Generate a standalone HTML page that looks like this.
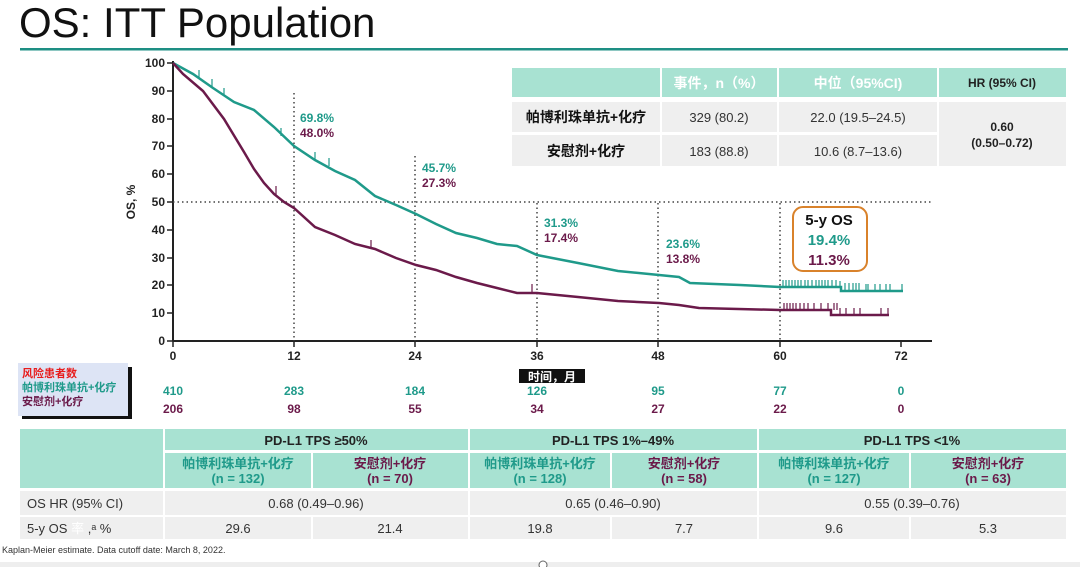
<!DOCTYPE html>
<html><head><meta charset="utf-8"><style>
body{margin:0;background:#fff;width:1080px;height:567px;overflow:hidden;font-family:"Liberation Sans","Noto Sans CJK SC",sans-serif;}
svg text{font-family:"Liberation Sans","Noto Sans CJK SC",sans-serif;}
</style></head><body>
<svg width="1080" height="567" viewBox="0 0 1080 567" xmlns="http://www.w3.org/2000/svg">
<text x="19" y="37" font-size="42" fill="#111">OS: ITT Population</text>
<rect x="20" y="48" width="1048" height="2.5" fill="#1e8f84"/>

<!-- axes -->
<g stroke="#222" stroke-width="2" fill="none">
<line x1="173" y1="61" x2="173" y2="341"/>
<line x1="173" y1="341" x2="932" y2="341"/>
</g>
<g stroke="#222" stroke-width="1.5">
<line x1="167" y1="63" x2="173" y2="63"/><line x1="167" y1="91" x2="173" y2="91"/><line x1="167" y1="119" x2="173" y2="119"/><line x1="167" y1="146" x2="173" y2="146"/><line x1="167" y1="174" x2="173" y2="174"/><line x1="167" y1="202" x2="173" y2="202"/><line x1="167" y1="230" x2="173" y2="230"/><line x1="167" y1="258" x2="173" y2="258"/><line x1="167" y1="285" x2="173" y2="285"/><line x1="167" y1="313" x2="173" y2="313"/><line x1="167" y1="341" x2="173" y2="341"/>
<line x1="173" y1="341" x2="173" y2="347"/><line x1="294" y1="341" x2="294" y2="347"/><line x1="415" y1="341" x2="415" y2="347"/><line x1="537" y1="341" x2="537" y2="347"/><line x1="658" y1="341" x2="658" y2="347"/><line x1="780" y1="341" x2="780" y2="347"/><line x1="901" y1="341" x2="901" y2="347"/>
</g>
<g font-size="12" font-weight="bold" fill="#222" text-anchor="end">
<text x="165" y="67">100</text><text x="165" y="95">90</text><text x="165" y="123">80</text><text x="165" y="150">70</text><text x="165" y="178">60</text><text x="165" y="206">50</text><text x="165" y="234">40</text><text x="165" y="262">30</text><text x="165" y="289">20</text><text x="165" y="317">10</text><text x="165" y="345">0</text>
</g>
<g font-size="12" font-weight="bold" fill="#222" text-anchor="middle">
<text x="173" y="360">0</text><text x="294" y="360">12</text><text x="415" y="360">24</text><text x="537" y="360">36</text><text x="658" y="360">48</text><text x="780" y="360">60</text><text x="901" y="360">72</text>
</g>
<text x="135" y="202" font-size="12" font-weight="bold" fill="#222" transform="rotate(-90 135 202)" text-anchor="middle">OS, %</text>
<rect x="519" y="369" width="66" height="14" fill="#111"/>
<text x="552" y="381" font-size="12" font-weight="bold" fill="#fff" text-anchor="middle">时间，月</text>

<!-- dotted guides -->
<g stroke="#444" stroke-width="1.5" stroke-dasharray="1.5,3">
<line x1="173" y1="202" x2="932" y2="202"/>
<line x1="294" y1="93" x2="294" y2="341"/>
<line x1="415" y1="156" x2="415" y2="341"/>
<line x1="537" y1="203" x2="537" y2="341"/>
<line x1="658" y1="203" x2="658" y2="341"/>
<line x1="780" y1="203" x2="780" y2="341"/>
</g>

<!-- curves -->
<polyline fill="none" stroke="#1f9a8a" stroke-width="2.5" points="173,63 193,74 213,88 234,102 254,110 274,127 294,146 315,160 335,171 355,180 375,196 396,205 416,214 436,224 456,233 477,238 497,244 517,246 537,255 578,263 618,271 659,275 679,277 690,283 740,285 780,287 841,287 841,291 903,291"/>
<polyline fill="none" stroke="#6b1a4a" stroke-width="2.5" points="173,63 183,74 203,91 224,119 244,152 254,169 264,183 274,194 284,202 294,208 315,227 335,235 355,244 375,249 396,258 416,265 436,270 456,277 477,283 497,288 517,293 537,293 578,297 618,301 659,303 679,305 699,308 780,310 831,310 831,315 889,315"/>
<g stroke="#1f9a8a" stroke-width="1.2">
<line x1="199" y1="70" x2="199" y2="78"/><line x1="212" y1="79" x2="212" y2="87"/><line x1="224" y1="88" x2="224" y2="96"/><line x1="281" y1="128" x2="281" y2="136"/><line x1="315" y1="152" x2="315" y2="160"/><line x1="329" y1="158" x2="329" y2="166"/>
<path d="M783 280v7M786 280v7M789 280v7M792 280v7M795 280v7M798 280v7M801 280v7M805 280v7M808 280v7M812 280v7M816 280v7M819 280v7M822 280v7M825 280v7M828 280v7M832 280v7M836 280v7M840 281v6M845 283v8M849 283v8M853 283v8M856 283v8M859 283v8M866 284v7M868 284v7M875 284v7M880 284v7M886 284v7M890 284v7M902 284v7"/>
</g>
<g stroke="#6b1a4a" stroke-width="1.2">
<line x1="276" y1="186" x2="276" y2="196"/><line x1="371" y1="240" x2="371" y2="249"/><line x1="532" y1="284" x2="532" y2="293"/>
<path d="M784 303v7M787 303v7M790 303v7M793 303v7M796 303v7M800 303v7M804 303v7M808 303v7M814 303v7M821 303v7M828 303v7M834 303v7M837 303v7M840 308v7M846 308v7M854 308v7M860 308v7M881 308v7M888 308v7"/>
</g>

<!-- annotations -->
<g font-size="12" font-weight="bold">
<text x="300" y="122" fill="#1f9a8a">69.8%</text><text x="300" y="137" fill="#6b1a4a">48.0%</text>
<text x="422" y="172" fill="#1f9a8a">45.7%</text><text x="422" y="187" fill="#6b1a4a">27.3%</text>
<text x="544" y="227" fill="#1f9a8a">31.3%</text><text x="544" y="242" fill="#6b1a4a">17.4%</text>
<text x="666" y="248" fill="#1f9a8a">23.6%</text><text x="666" y="263" fill="#6b1a4a">13.8%</text>
</g>
<rect x="793" y="207" width="74" height="64" rx="10" fill="#fff" stroke="#d9822b" stroke-width="2"/>
<g font-size="15" font-weight="bold" text-anchor="middle">
<text x="829" y="225" fill="#111">5-y OS</text>
<text x="829" y="245" fill="#1f9a8a">19.4%</text>
<text x="829" y="265" fill="#6b1a4a">11.3%</text>
</g>

<!-- top-right table -->
<g fill="#a8e2d2"><rect x="512" y="68" width="148" height="29"/><rect x="662" y="68" width="115" height="29"/><rect x="779" y="68" width="158" height="29"/><rect x="939" y="68" width="127" height="29"/></g>
<g fill="#efefef"><rect x="512" y="102" width="148" height="30"/><rect x="662" y="102" width="115" height="30"/><rect x="779" y="102" width="158" height="30"/><rect x="512" y="135" width="148" height="31"/><rect x="662" y="135" width="115" height="31"/><rect x="779" y="135" width="158" height="31"/><rect x="939" y="102" width="127" height="64"/></g>
<g font-size="14" fill="#fff" font-weight="bold" text-anchor="middle"><text x="719" y="88">事件，n（%）</text><text x="858" y="88">中位（95%CI)</text></g>
<text x="1002" y="87" font-size="12" font-weight="bold" fill="#222" text-anchor="middle">HR (95% CI)</text>
<g font-size="14" font-weight="bold" fill="#111" text-anchor="middle"><text x="586" y="122">帕博利珠单抗+化疗</text><text x="586" y="156">安慰剂+化疗</text></g>
<g font-size="13" fill="#333" text-anchor="middle"><text x="719" y="122">329 (80.2)</text><text x="858" y="122">22.0 (19.5–24.5)</text><text x="719" y="156">183 (88.8)</text><text x="858" y="156">10.6 (8.7–13.6)</text></g>
<g font-size="12" font-weight="bold" fill="#222" text-anchor="middle"><text x="1002" y="131">0.60</text><text x="1002" y="147">(0.50–0.72)</text></g>

<!-- risk box -->
<rect x="18" y="363" width="110" height="53" fill="#dde4f5"/>
<rect x="128" y="367" width="4" height="51" fill="#111"/><rect x="22" y="416" width="110" height="3" fill="#111"/>
<g font-size="11" font-weight="bold"><text x="22" y="377" fill="#e81c1c">风险患者数</text><text x="22" y="391" fill="#1f9a8a">帕博利珠单抗+化疗</text><text x="22" y="405" fill="#6b1a4a">安慰剂+化疗</text></g>
<g font-size="12" font-weight="bold" text-anchor="middle" fill="#1f9a8a"><text x="173" y="395">410</text><text x="294" y="395">283</text><text x="415" y="395">184</text><text x="537" y="395">126</text><text x="658" y="395">95</text><text x="780" y="395">77</text><text x="901" y="395">0</text></g>
<g font-size="12" font-weight="bold" text-anchor="middle" fill="#6b1a4a"><text x="173" y="413">206</text><text x="294" y="413">98</text><text x="415" y="413">55</text><text x="537" y="413">34</text><text x="658" y="413">27</text><text x="780" y="413">22</text><text x="901" y="413">0</text></g>

<!-- bottom table -->
<g fill="#a8e2d2">
<rect x="20" y="429" width="143" height="59"/>
<rect x="165" y="429" width="303" height="21"/><rect x="470" y="429" width="287" height="21"/><rect x="759" y="429" width="307" height="21"/>
<rect x="165" y="453" width="146" height="35"/><rect x="313" y="453" width="155" height="35"/>
<rect x="470" y="453" width="140" height="35"/><rect x="612" y="453" width="145" height="35"/>
<rect x="759" y="453" width="150" height="35"/><rect x="911" y="453" width="155" height="35"/>
</g>
<g fill="#efefef">
<rect x="20" y="491" width="143" height="24"/><rect x="165" y="491" width="303" height="24"/><rect x="470" y="491" width="287" height="24"/><rect x="759" y="491" width="307" height="24"/>
<rect x="20" y="517" width="143" height="22"/><rect x="165" y="517" width="146" height="22"/><rect x="313" y="517" width="155" height="22"/><rect x="470" y="517" width="140" height="22"/><rect x="612" y="517" width="145" height="22"/><rect x="759" y="517" width="150" height="22"/><rect x="911" y="517" width="155" height="22"/>
</g>
<g font-size="13" font-weight="bold" fill="#222" text-anchor="middle"><text x="316" y="445">PD-L1 TPS ≥50%</text><text x="613" y="445">PD-L1 TPS 1%–49%</text><text x="912" y="445">PD-L1 TPS &lt;1%</text></g>
<g font-size="13" font-weight="bold" text-anchor="middle">
<text x="238" y="468" fill="#1f9a8a">帕博利珠单抗+化疗</text><text x="238" y="483" fill="#1f9a8a">(n = 132)</text>
<text x="390" y="468" fill="#6b1a4a">安慰剂+化疗</text><text x="390" y="483" fill="#6b1a4a">(n = 70)</text>
<text x="540" y="468" fill="#1f9a8a">帕博利珠单抗+化疗</text><text x="540" y="483" fill="#1f9a8a">(n = 128)</text>
<text x="684" y="468" fill="#6b1a4a">安慰剂+化疗</text><text x="684" y="483" fill="#6b1a4a">(n = 58)</text>
<text x="834" y="468" fill="#1f9a8a">帕博利珠单抗+化疗</text><text x="834" y="483" fill="#1f9a8a">(n = 127)</text>
<text x="988" y="468" fill="#6b1a4a">安慰剂+化疗</text><text x="988" y="483" fill="#6b1a4a">(n = 63)</text>
</g>
<g font-size="13" fill="#333">
<text x="27" y="508">OS HR (95% CI)</text><text x="27" y="533">5-y OS <tspan fill="#fff">率</tspan> ,ᵃ %</text>
</g>
<g font-size="13" fill="#333" text-anchor="middle">
<text x="316" y="508">0.68 (0.49–0.96)</text><text x="613" y="508">0.65 (0.46–0.90)</text><text x="912" y="508">0.55 (0.39–0.76)</text>
<text x="238" y="533">29.6</text><text x="390" y="533">21.4</text><text x="540" y="533">19.8</text><text x="684" y="533">7.7</text><text x="834" y="533">9.6</text><text x="988" y="533">5.3</text>
</g>
<text x="2" y="553" font-size="9" fill="#333">Kaplan-Meier estimate.  Data cutoff date: March 8, 2022.</text>
<rect x="0" y="562" width="1080" height="5" fill="#eee"/>
<circle cx="543" cy="565" r="4" fill="#fff" stroke="#666"/>
</svg>
</body></html>
